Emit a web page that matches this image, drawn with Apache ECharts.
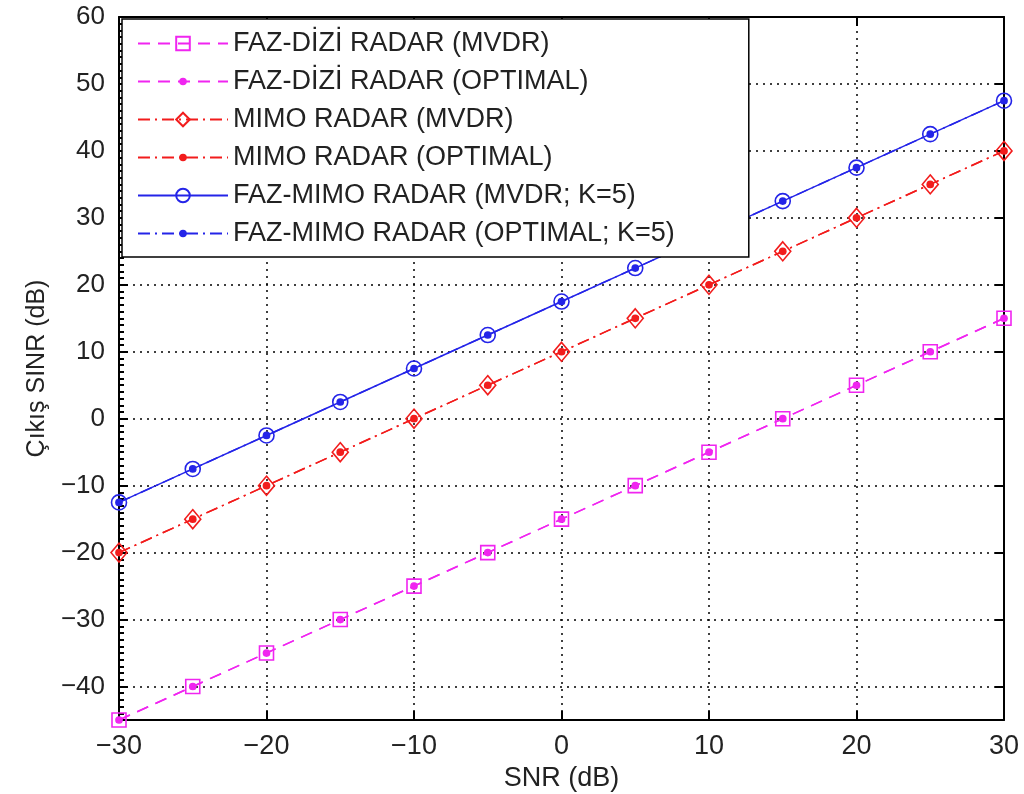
<!DOCTYPE html>
<html>
<head>
<meta charset="utf-8">
<script src="https://cdn.jsdelivr.net/npm/echarts@6/dist/echarts.min.js"></script>
<style>
  html, body { margin: 0; padding: 0; background: #fff; }
  #chart { width: 1024px; height: 794px; }
</style>
</head>
<body>
<div id="chart"></div>
<script>
// SNR values on the x axis (dB)
const snr = [-30, -25, -20, -15, -10, -5, 0, 5, 10, 15, 20, 25, 30];

// Output SINR (dB) for each receiver
const faziMvdr     = [-45, -40, -35, -30, -25, -20, -15, -10, -5, 0, 5, 10, 15];
const faziOptimal  = [-45, -40, -35, -30, -25, -20, -15, -10, -5, 0, 5, 10, 15];
const mimoMvdr     = [-20, -15, -10, -5, 0, 5, 10, 15, 20, 25, 30, 35, 40];
const mimoOptimal  = [-20, -15, -10, -5, 0, 5, 10, 15, 20, 25, 30, 35, 40];
const fazMimoMvdr    = [-12.5, -7.5, -2.5, 2.5, 7.5, 12.5, 17.5, 22.5, 27.5, 32.5, 37.5, 42.5, 47.5];
const fazMimoOptimal = [-12.5, -7.5, -2.5, 2.5, 7.5, 12.5, 17.5, 22.5, 27.5, 32.5, 37.5, 42.5, 47.5];

const seriesNames = [
  'FAZ-DİZİ RADAR (MVDR)',
  'FAZ-DİZİ RADAR (OPTIMAL)',
  'MIMO RADAR (MVDR)',
  'MIMO RADAR (OPTIMAL)',
  'FAZ-MIMO RADAR (MVDR; K=5)',
  'FAZ-MIMO RADAR (OPTIMAL; K=5)'
];

const MAGENTA = '#f025f0';
const RED = '#f21c1c';
const BLUE = '#2424e8';

// small filled dot inside a larger empty box, so it stays small in the legend too
const DOT = 'path://M0,0M20,20M4.5,10A5.5,5.5 0 1,1 15.5,10A5.5,5.5 0 1,1 4.5,10Z';

const DASH = [12, 8];
const DASH_DOT = [12, 5, 2, 5];

const minus = v => String(v).replace('-', '\u2212');

function pairs(ys) { return snr.map((x, i) => [x, ys[i]]); }

function lineSeries(name, ys, color, dash, symbol, size, hollow) {
  return {
    name: name,
    type: 'line',
    data: pairs(ys),
    clip: false,
    symbol: symbol,
    symbolSize: size,
    showAllSymbol: true,
    lineStyle: { color: color, width: 1.5, type: dash },
    itemStyle: hollow
      ? { color: 'rgba(255,255,255,0)', borderColor: color, borderWidth: 1.6 }
      : { color: color, borderWidth: 0 },
    emphasis: { disabled: true },
    animation: false
  };
}

const chart = echarts.init(document.getElementById('chart'), null, { renderer: 'canvas' });

const axisLine = { show: true, onZero: false, lineStyle: { color: '#000', width: 2 } };
const gridLine = { show: true, lineStyle: { color: '#000', width: 1.5, type: [2, 5] } };
const tickFont = { color: '#222', fontFamily: 'Liberation Sans, Arial, sans-serif', fontSize: 26 };

chart.setOption({
  animation: false,
  backgroundColor: '#fff',
  grid: { left: 119, right: 20, top: 17, bottom: 74, outerBoundsMode: 'none', containLabel: false },
  xAxis: [
    {
      type: 'value', position: 'bottom', min: -30, max: 30, interval: 10,
      axisLine: axisLine,
      axisTick: { show: true, inside: true, length: 9, lineStyle: { color: '#000', width: 2 } },
      axisLabel: Object.assign({}, tickFont, {
        fontFamily: 'Liberation Sans Narrow, Arial Narrow, Liberation Sans, sans-serif',
        fontSize: 27, margin: 13, formatter: minus
      }),
      splitLine: gridLine,
      name: 'SNR (dB)', nameLocation: 'middle', nameGap: 39,
      nameTextStyle: { color: '#222', fontFamily: 'Liberation Sans Narrow, Liberation Sans, sans-serif', fontSize: 27 }
    },
    {
      type: 'value', position: 'top', min: -30, max: 30, interval: 10,
      axisLine: axisLine,
      axisTick: { show: true, inside: true, length: 9, lineStyle: { color: '#000', width: 2 } },
      axisLabel: { show: false },
      splitLine: { show: false }
    }
  ],
  yAxis: [
    {
      type: 'value', position: 'left', min: -45, max: 60, splitNumber: 10,
      axisLine: axisLine,
      axisTick: { show: true, inside: true, length: 9, lineStyle: { color: '#000', width: 2 } },
      minorTick: { show: true, splitNumber: 10, length: 5, lineStyle: { color: '#000', width: 2 } },
      axisLabel: Object.assign({}, tickFont, {
        margin: 14, showMinLabel: false,
        formatter: v => (v % 10 === 0 ? minus(v) : '')
      }),
      splitLine: gridLine,
      name: 'Çıkış SINR (dB)', nameLocation: 'middle', nameGap: 63, nameRotate: 90,
      nameTextStyle: { color: '#222', fontFamily: 'Liberation Sans, Arial, sans-serif', fontSize: 25 }
    },
    {
      type: 'value', position: 'right', min: -45, max: 60, splitNumber: 10,
      axisLine: axisLine,
      axisTick: { show: true, inside: true, length: 9, lineStyle: { color: '#000', width: 2 } },
      axisLabel: { show: false },
      splitLine: { show: false }
    }
  ],
  legend: {
    orient: 'vertical',
    left: 122, top: 19,
    padding: [11, 74, 10, 15],
    itemWidth: 90, itemHeight: 17, itemGap: 11,
    backgroundColor: '#fff',
    borderColor: '#000', borderWidth: 1.5, borderRadius: 0,
    textStyle: { color: '#222', fontFamily: 'Liberation Sans, Arial, sans-serif', fontSize: 27 },
    selectedMode: false,
    z: 10,
    data: seriesNames
  },
  series: [
    lineSeries(seriesNames[0], faziMvdr, MAGENTA, DASH, 'rect', 14, true),
    lineSeries(seriesNames[1], faziOptimal, MAGENTA, DASH, DOT, 14, false),
    lineSeries(seriesNames[2], mimoMvdr, RED, DASH_DOT, 'diamond', [16, 19], true),
    lineSeries(seriesNames[3], mimoOptimal, RED, DASH_DOT, DOT, 14, false),
    lineSeries(seriesNames[4], fazMimoMvdr, BLUE, 'solid', 'circle', 15, true),
    lineSeries(seriesNames[5], fazMimoOptimal, BLUE, DASH_DOT, DOT, 14, false)
  ]
});
</script>
</body>
</html>
